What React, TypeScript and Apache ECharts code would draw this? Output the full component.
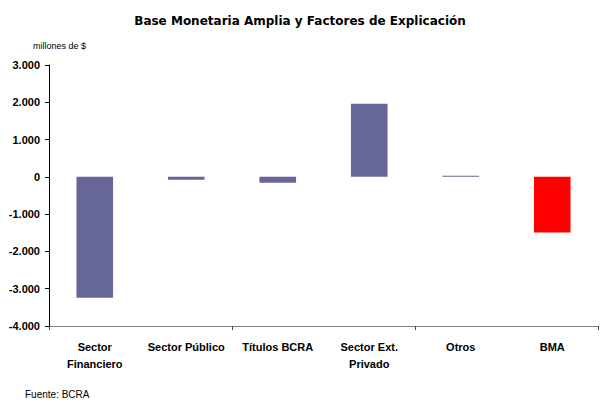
import React, { useEffect, useRef } from "react";
import * as echarts from "echarts";

const categories = ["Sector\nFinanciero", "Sector Público", "Títulos BCRA", "Sector Ext.\nPrivado", "Otros", "BMA"];
const values = [-3240, -80, -160, 1960, 30, -1495];
const barColors = ["#666699", "#666699", "#666699", "#666699", "#666699", "#FF0000"];
const yMin = -4000;
const yMax = 3000;
const yStep = 1000;

const fmt = (v: number) => {
  const s = Math.abs(v).toString().replace(/\B(?=(\d{3})+(?!\d))/g, ".");
  return (v < 0 ? "-" : "") + s;
};

export default function App() {
  const ref = useRef<HTMLDivElement>(null);
  useEffect(() => {
    if (!ref.current) return;
    const chart = echarts.init(ref.current, undefined, { renderer: "svg" });
    const font = "'Liberation Sans', Arial, sans-serif";
    chart.setOption({
      animation: false,
      backgroundColor: "#ffffff",
      title: {
        text: "Base Monetaria Amplia y Factores de Explicación",
        left: "center",
        top: 10,
        textStyle: { fontFamily: "'DejaVu Sans', Verdana, sans-serif", fontSize: 12, fontWeight: "bold", color: "#000" },
      },
      graphic: [
        { type: "text", left: 33, top: 41, style: { text: "millones de $", font: `9px ${font}`, fill: "#000" } },
        { type: "text", left: 25, top: 389, style: { text: "Fuente: BCRA", font: `10px ${font}`, fill: "#000" } },
      ],
      grid: { left: 49, right: 2, top: 65, bottom: 77, containLabel: false },
      xAxis: [
        {
          type: "category",
          data: categories,
          position: "bottom",
          axisLine: { show: false },
          axisTick: { show: false },
          axisLabel: { interval: 0, margin: 12, fontFamily: font, fontSize: 11, fontWeight: "bold", color: "#000", lineHeight: 17 },
        },
        {
          type: "category",
          data: categories,
          position: "bottom",
          axisLine: { show: true, onZero: true, lineStyle: { color: "#808080", width: 1 } },
          axisTick: { show: true, length: 4, lineStyle: { color: "#404040" } },
          axisLabel: { show: false },
        },
      ],
      yAxis: {
        type: "value",
        min: yMin,
        max: yMax,
        interval: yStep,
        axisLine: { show: true, lineStyle: { color: "#000", width: 1 } },
        axisTick: { show: true, length: 4, lineStyle: { color: "#000" } },
        splitLine: { show: false },
        axisLabel: { margin: 9, formatter: (v: number) => fmt(v), fontFamily: font, fontSize: 11, fontWeight: "bold", color: "#000" },
      },
      series: [
        {
          type: "bar",
          xAxisIndex: 0,
          barWidth: "40%",
          data: values.map((v, i) => ({ value: v, itemStyle: { color: barColors[i] } })),
        },
      ],
    });
    return () => chart.dispose();
  }, []);
  return <div ref={ref} style={{ width: 600, height: 403, position: "absolute", left: 0, top: 0 }} />;
}
